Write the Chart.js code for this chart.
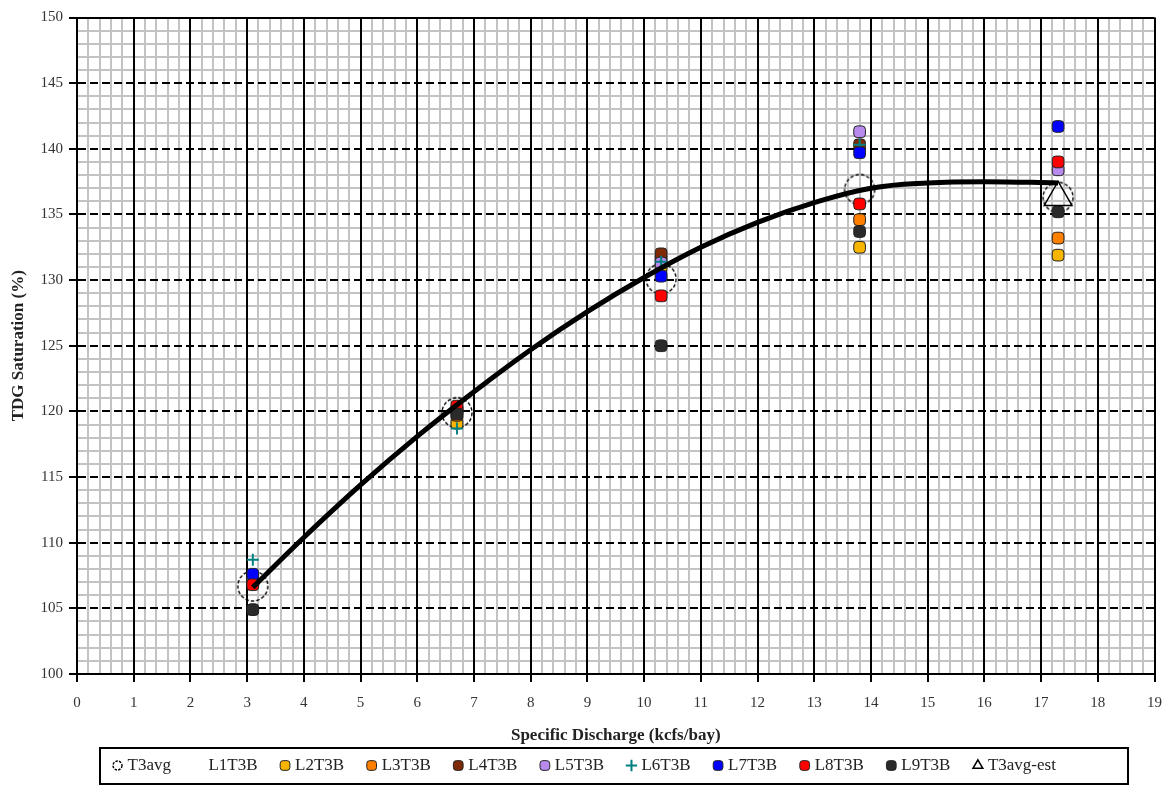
<!DOCTYPE html>
<html>
<head>
<meta charset="utf-8">
<script src="https://cdn.jsdelivr.net/npm/chart.js@4.4.1/dist/chart.umd.min.js"></script>
<style>
html,body{margin:0;padding:0;background:#fff;}
#wrap{width:1172px;height:796px;}
</style>
</head>
<body>
<div id="wrap"><canvas id="c" width="1172" height="796"></canvas></div>
<script>
// ---------- data ----------
const xTickLabels = [0,1,2,3,4,5,6,7,8,9,10,11,12,13,14,15,16,17,18,19];
const yTickLabels = [100,105,110,115,120,125,130,135,140,145,150];
const dischargeX = [3.1, 6.7, 10.3, 13.8, 17.3];

const T3avg    = [106.7, 119.9, 130.1, 136.9, 136.3];
const L1T3B    = [null, null, null, null, null];
const L2T3B    = [106.9, 119.1, 131.0, 132.5, 131.9];
const L3T3B    = [107.0, 119.7, 131.6, 134.6, 133.2];
const L4T3B    = [107.1, 120.1, 132.0, 140.3, null];
const L5T3B    = [107.2, 120.0, 131.3, 141.3, 138.4];
const L6T3B    = [108.7, 118.7, 131.4, 140.3, null];
const L7T3B    = [107.6, 120.2, 130.3, 139.7, 141.7];
const L8T3B    = [106.8, 120.4, 128.8, 135.8, 139.0];
const L9T3B    = [104.9, 119.8, 125.0, 133.7, 135.2];
const T3avgEst = [null, null, null, null, 136.3];

// fitted curve
const trendX = [3.1, 4, 5, 6, 7, 8, 9, 10, 11, 12, 13, 14, 15, 16, 17.3];
const trendY = [106.6, 110.4, 114.4, 118.1, 121.5, 124.7, 127.6, 130.2, 132.5, 134.4, 135.9, 137.0, 137.4, 137.5, 137.4];

// ---------- helpers ----------
const FONT = "'Liberation Serif', 'DejaVu Serif', 'Times New Roman', serif";
function pts(arr) {
  return dischargeX.map((x, i) => ({x: x, y: arr[i]})).filter(p => p.y !== null);
}
function dashedCircle(r, lw, dash) {
  const s = Math.ceil(2 * r + lw + 2);
  const c = document.createElement('canvas');
  c.width = s; c.height = s;
  const g = c.getContext('2d');
  g.setLineDash(dash);
  g.lineWidth = lw;
  g.strokeStyle = '#000';
  g.beginPath();
  g.arc(s / 2, s / 2, r, 0, Math.PI * 2);
  g.stroke();
  return c;
}
const bigCircle = dashedCircle(15, 1.4, [3.5, 2]);
const smallCircle = dashedCircle(4.5, 1.4, [2.5, 1.2]);

function marker(label, arr, color, order, extra) {
  return Object.assign({
    label: label,
    data: pts(arr),
    pointStyle: 'rectRounded',
    pointRadius: 6.8,
    pointHoverRadius: 6.8,
    backgroundColor: color,
    borderColor: '#222',
    borderWidth: 1,
    showLine: false,
    order: order
  }, extra || {});
}

const isMajorX = v => Math.abs(v - Math.round(v)) < 1e-6;

const datasets = [
  {
    label: 'T3avg', data: pts(T3avg), pointStyle: bigCircle,
    backgroundColor: 'rgba(0,0,0,0)', borderColor: '#000', borderWidth: 1.3,
    showLine: false, order: 11
  },
  marker('L1T3B', L1T3B, 'rgba(255,255,255,0)', 10, {borderColor: 'rgba(255,255,255,0)'}),
  marker('L2T3B', L2T3B, '#F7B500', 9),
  marker('L3T3B', L3T3B, '#FF7F00', 8),
  marker('L4T3B', L4T3B, '#7E2A06', 7),
  marker('L5T3B', L5T3B, '#B98AEE', 6),
  marker('L6T3B', L6T3B, '#008080', 5, {pointStyle: 'cross', pointRadius: 6, borderColor: '#008080', borderWidth: 2}),
  marker('L7T3B', L7T3B, '#0000FF', 4),
  marker('L8T3B', L8T3B, '#FF0000', 3),
  marker('L9T3B', L9T3B, '#2A2A2A', 2),
  {
    label: 'T3avg-est', data: pts(T3avgEst), pointStyle: 'triangle', pointRadius: 16,
    backgroundColor: 'rgba(255,255,255,0)', borderColor: '#000', borderWidth: 1.5,
    showLine: false, order: 1
  },
  {
    type: 'line', label: 'Trend',
    data: trendX.map((x, i) => ({x: x, y: trendY[i]})),
    borderColor: '#000', borderWidth: 5, pointRadius: 0, pointHoverRadius: 0,
    tension: 0.4, fill: false, order: 0
  }
];

// place the legend under the plot area and draw its frame
const legendFrame = {
  id: 'legendFrame',
  afterLayout(chart) {
    const lg = chart.legend, ca = chart.chartArea;
    if (!lg || !ca) return;
    const w = lg.right - lg.left;
    lg.left = ca.left + 13;
    lg.right = lg.left + w;
  },
  afterDraw(chart) {
    const lg = chart.legend, ca = chart.chartArea;
    const hb = lg && lg.legendHitBoxes;
    if (!hb || !hb.length) return;
    const left = ca.left + 23;
    const right = ca.right - 27;
    const midY = hb[0].top + hb[0].height / 2;
    const c = chart.ctx;
    c.save();
    c.lineWidth = 2;
    c.strokeStyle = '#000';
    c.setLineDash([]);
    c.strokeRect(Math.round(left), Math.round(midY - 18), Math.round(right - left), 36);
    c.restore();
  }
};

new Chart(document.getElementById('c'), {
  type: 'scatter',
  data: {datasets: datasets},
  plugins: [legendFrame],
  options: {
    responsive: false,
    devicePixelRatio: 1,
    animation: false,
    events: [],
    layout: {padding: {top: 16, right: 14, bottom: 12, left: 0}},
    plugins: {
      tooltip: {enabled: false},
      legend: {
        position: 'bottom',
        align: 'start',
        labels: {
          usePointStyle: true,
          boxWidth: 3,
          boxHeight: 8,
          padding: 26,
          color: '#222',
          font: {family: FONT, size: 17},
          filter: item => item.text !== 'Trend',
          sort: (a, b) => a.datasetIndex - b.datasetIndex,
          generateLabels(chart) {
            const items = Chart.defaults.plugins.legend.labels.generateLabels(chart);
            items.forEach(it => { if (it.text === 'T3avg') it.pointStyle = smallCircle; });
            return items;
          }
        }
      }
    },
    scales: {
      yMinor: {
        type: 'linear', position: 'right', min: 100, max: 150, z: -3,
        afterBuildTicks(s) {
          const t = [];
          for (let v = 100; v <= 150; v++) t.push({value: v});
          s.ticks = t;
        },
        afterFit(s) { s.width = 0; s.paddingTop = 0; s.paddingBottom = 0; },
        ticks: {display: false},
        border: {display: false},
        grid: {
          drawTicks: false,
          lineWidth: 2,
          color: ctx => (ctx.tick && ctx.tick.value % 5 !== 0) ? '#c3c3c3' : 'rgba(0,0,0,0)'
        }
      },
      x: {
        type: 'linear', position: 'bottom', min: 0, max: 19, z: -2,
        afterBuildTicks(s) {
          const t = [];
          for (let k = 0; k <= 95; k++) t.push({value: k / 5});
          s.ticks = t;
        },
        afterFit(s) { s.height = 57; s.paddingLeft = 0; s.paddingRight = 0; },
        ticks: {
          autoSkip: false, maxRotation: 0, minRotation: 0,
          padding: 12,
          color: '#333',
          font: {family: FONT, size: 15},
          callback: v => isMajorX(v) ? String(xTickLabels[Math.round(v)]) : ''
        },
        grid: {
          lineWidth: 2,
          color: ctx => (ctx.tick && isMajorX(ctx.tick.value)) ? '#000' : '#c3c3c3',
          tickLength: 8,
          tickWidth: 2,
          tickColor: ctx => (ctx.tick && isMajorX(ctx.tick.value)) ? '#000' : 'rgba(0,0,0,0)'
        },
        border: {display: true, color: '#000', width: 2},
        title: {
          display: true, text: 'Specific Discharge (kcfs/bay)',
          color: '#222', font: {family: FONT, size: 17, weight: 'bold'},
          padding: {top: 0, bottom: -15}
        }
      },
      y: {
        type: 'linear', position: 'left', min: 100, max: 150, z: -1,
        afterBuildTicks(s) { s.ticks = yTickLabels.map(v => ({value: v})); },
        afterFit(s) { s.width = 77; },
        ticks: {
          padding: 6,
          color: '#333',
          font: {family: FONT, size: 15},
          callback: v => String(v)
        },
        grid: {
          lineWidth: 2, color: '#000',
          tickLength: 8, tickWidth: 2, tickColor: '#000'
        },
        border: {
          display: true, color: '#000', width: 2,
          dash: ctx => (ctx.tick && ctx.tick.value !== 150 && ctx.tick.value !== 100) ? [8, 4] : []
        },
        title: {
          display: true, text: 'TDG Saturation (%)',
          color: '#222', font: {family: FONT, size: 17, weight: 'bold'},
          padding: {top: 8, bottom: 0}
        }
      }
    }
  }
});
</script>
</body>
</html>
